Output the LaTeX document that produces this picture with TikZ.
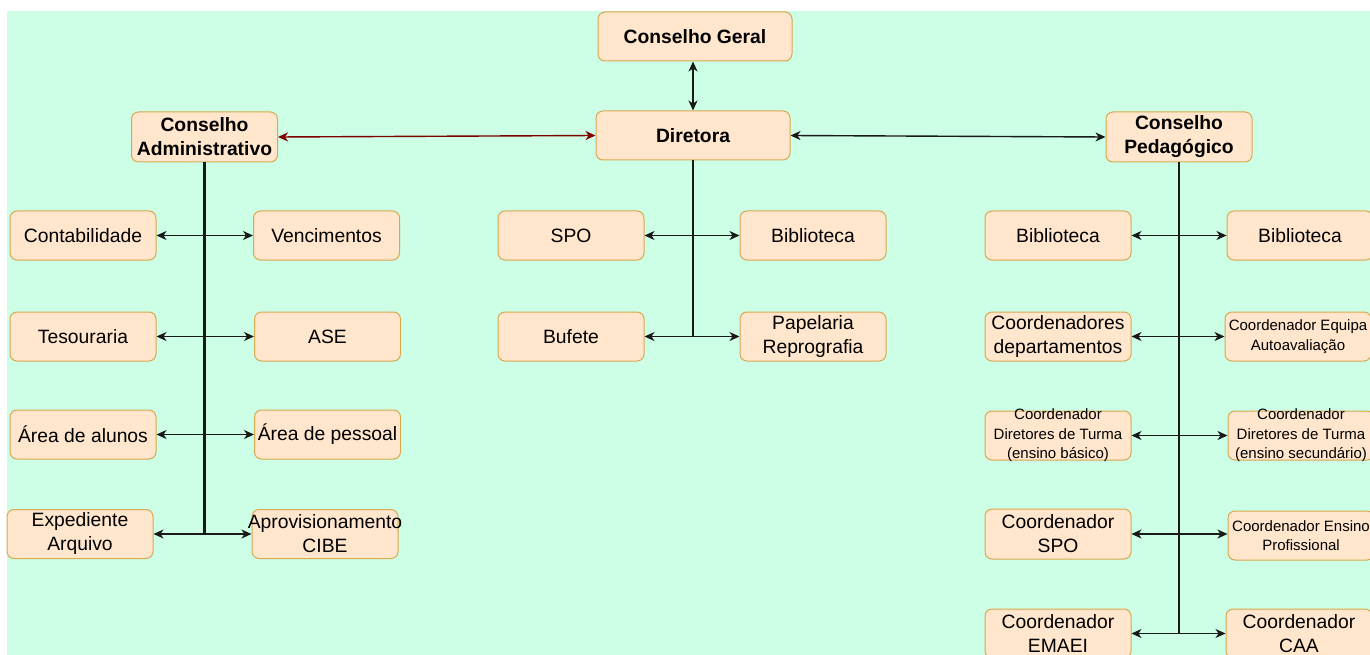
\documentclass[tikz,border=0pt]{standalone}
\usepackage{fontspec}
\setmainfont{Liberation Sans}
\usetikzlibrary{arrows.meta}
\definecolor{bgc}{HTML}{CCFFE6}
\definecolor{boxfill}{HTML}{FFE6CC}
\definecolor{boxline}{HTML}{DAA850}
\definecolor{redline}{HTML}{800000}
\begin{document}
\begin{tikzpicture}[x=1pt,y=-1pt,
  box/.style={draw=boxline, fill=boxfill, line width=1pt, rounded corners=7pt,
    minimum width=146pt, minimum height=49pt, inner sep=0pt},
  wide/.style={minimum width=194pt},
  big/.style={font=\fontsize{19.3}{24}\selectfont, align=center, inner sep=0pt},
  bigb/.style={font=\fontsize{19.3}{24}\selectfont\bfseries, align=center, inner sep=0pt},
  small/.style={font=\fontsize{15}{19.5}\selectfont, align=center, inner sep=0pt},
  tip/.tip={Stealth[length=10pt,width=9pt,inset=3pt]},
  link/.style={line width=1.4pt, black!90, tip-tip},
  redlink/.style={line width=1.4pt, redline, tip-tip},
  trunk/.style={line width=2.2pt, black!90}
]
\clip (0,0) rectangle (1370,655);
\fill[white] (0,0) rectangle (1370,655);
\fill[bgc] (7,11) rectangle (1370,655);

% top level
\node[box, wide, label={[bigb]center:Conselho Geral}] (cg) at (695,36.5) {};
\node[box, wide, label={[bigb]center:Diretora}] (dir) at (693,135.5) {};
\node[box, minimum height=50pt, label={[bigb]center:Conselho\\Administrativo}] (ca) at (204.5,137) {};
\node[box, minimum height=50pt, label={[bigb]center:Conselho\\Pedagógico}] (cp) at (1179,137) {};

% left group
\node[box, label={[big]center:Contabilidade}] (contab) at (83,235.5) {};
\node[box, label={[big]center:Vencimentos}] (venc) at (326.5,235.5) {};
\node[box, label={[big]center:Tesouraria}] (tes) at (83,336.5) {};
\node[box, label={[big]center:ASE}] (ase) at (327.5,336.5) {};
\node[box, label={[big]center:Área de alunos}] (alun) at (83,434.5) {};
\node[box, label={[big]center:Área de pessoal}] (pess) at (327.5,434.5) {};
\node[box, label={[big]center:Expediente\\Arquivo}] (exped) at (80,534) {};
\node[box, label={[big]center:Aprovisionamento\\CIBE}] (aprov) at (325,534) {};

% middle group
\node[box, label={[big]center:SPO}] (spo) at (571,235.5) {};
\node[box, label={[big]center:Biblioteca}] (bibm) at (813,235.5) {};
\node[box, label={[big]center:Bufete}] (buf) at (571,336.5) {};
\node[box, label={[big]center:Papelaria\\Reprografia}] (pap) at (813,336.5) {};

% right group
\node[box, label={[big]center:Biblioteca}] (bibl) at (1058,235.5) {};
\node[box, label={[big]center:Biblioteca}] (bibr) at (1300,235.5) {};
\node[box, label={[big]center:Coordenadores\\departamentos}] (cdep) at (1058,336.5) {};
\node[box, label={[small]center:Coordenador Equipa\\Autoavaliação}] (ceq) at (1298,336.5) {};
\node[box, label={[small]center:Coordenador\\Diretores de Turma\\(ensino básico)}] (cdtb) at (1058,435.5) {};
\node[box, label={[small]center:Coordenador\\Diretores de Turma\\(ensino secundário)}] (cdts) at (1301,435.5) {};
\node[box, minimum height=50pt, label={[big]center:Coordenador\\SPO}] (cspo) at (1058,534) {};
\node[box, label={[small]center:Coordenador Ensino\\Profissional}] (cep) at (1301,535.5) {};
\node[box, label={[big]center:Coordenador\\EMAEI}] (cem) at (1058,633.5) {};
\node[box, label={[big]center:Coordenador\\CAA}] (ccaa) at (1299,633.5) {};

% top connectors
\draw[link] (dir.north) -- (dir.north |- cg.south);
\draw[redlink] (ca.east) -- (dir.west);
\draw[link] (dir.east) -- (cp.west);

% trunks
\draw[trunk] (ca.south) -- (ca.south |- exped.east);
\draw[trunk] (dir.south) -- (dir.south |- buf.east);
\draw[trunk] (cp.south) -- (cp.south |- cem.east);

% left arrows
\draw[link] (contab.east) -- (venc.west);
\draw[link] (tes.east) -- (ase.west);
\draw[link] (alun.east) -- (pess.west);
\draw[link] (exped.east) -- (aprov.west);

% middle arrows
\draw[link] (spo.east) -- (bibm.west);
\draw[link] (buf.east) -- (pap.west);

% right arrows
\draw[link] (bibl.east) -- (bibr.west);
\draw[link] (cdep.east) -- (ceq.west);
\draw[link] (cdtb.east) -- (cdts.west);
\draw[link] (cspo.east) -- (cspo.east -| cep.west);
\draw[link] (cem.east) -- (ccaa.west);
\end{tikzpicture}
\end{document}
